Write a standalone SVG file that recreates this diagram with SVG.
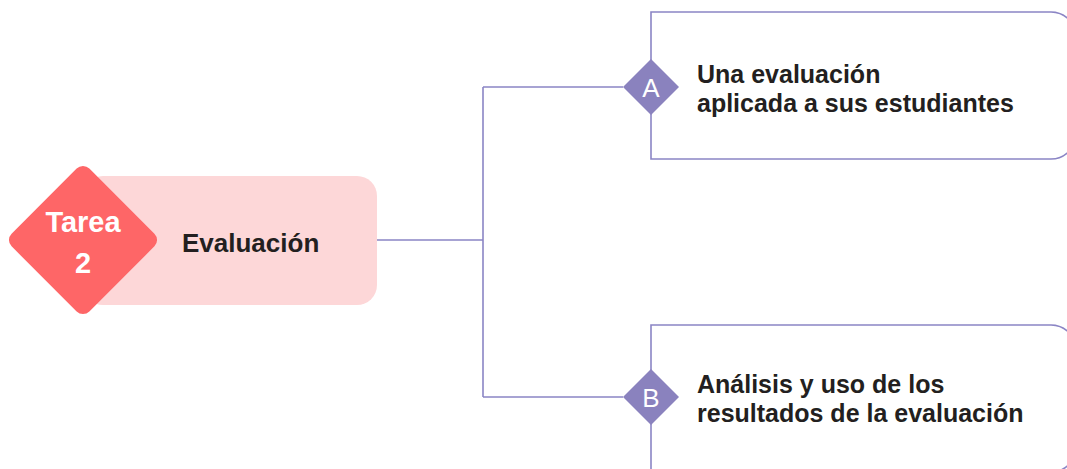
<svg xmlns="http://www.w3.org/2000/svg" width="1067" height="469" viewBox="0 0 1067 469">
<style>
.conn{fill:none;stroke:#8b85c5;stroke-width:1.6}
.box{fill:#ffffff;stroke:#8b85c5;stroke-width:1.6}
.dia{fill:#8a82be}
.letter{font-family:"Liberation Sans",Arial,sans-serif;font-size:26px;fill:#ffffff;text-anchor:middle}
.label{font-family:"Liberation Sans",Arial,sans-serif;font-weight:bold;font-size:25px;fill:#231f20}
</style>
<rect width="1067" height="469" fill="#ffffff"/>
<g id="connectors">
<path class="conn" d="M377,240 H483 M483,87 V397 M483,87 H623 M483,397 H623"/>
</g>
<g id="main">
<rect x="83" y="176" width="294" height="129" rx="20" fill="#fdd7d8"/>
<rect x="28" y="185" width="110" height="110" rx="9" fill="#fe6667" transform="rotate(45 83 240)"/>
<text font-family="'Liberation Sans',Arial,sans-serif" font-weight="bold" font-size="29" fill="#ffffff" text-anchor="middle"><tspan x="83" y="232">Tarea</tspan><tspan x="83" y="273">2</tspan></text>
<text x="182" y="252" font-family="'Liberation Sans',Arial,sans-serif" font-weight="bold" font-size="26" fill="#231f20">Evaluación</text>
</g>
<g id="nodeA">
<path class="box" d="M651,12 H1051 A25,25 0 0 1 1076,37 V134 A25,25 0 0 1 1051,159 H651 Z"/>
<polygon class="dia" points="651,59 679,87 651,115 623,87"/>
<text class="letter" x="651" y="97">A</text>
<text class="label"><tspan x="697" y="83">Una evaluación</tspan><tspan x="697" y="112">aplicada a sus estudiantes</tspan></text>
</g>
<g id="nodeB">
<path class="box" d="M651,325 H1051 A25,25 0 0 1 1076,350 V447 A25,25 0 0 1 1051,472 H651 Z"/>
<polygon class="dia" points="651,369 679,397 651,425 623,397"/>
<text class="letter" x="651" y="407">B</text>
<text class="label"><tspan x="697" y="393">Análisis y uso de los</tspan><tspan x="697" y="422">resultados de la evaluación</tspan></text>
</g>
</svg>
